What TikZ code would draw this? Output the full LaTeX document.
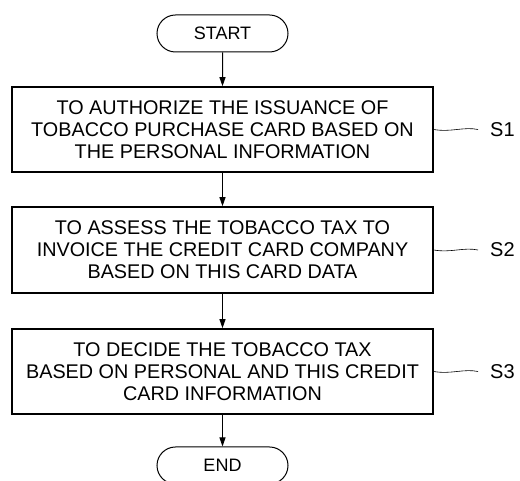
\documentclass[tikz,border=0pt]{standalone}
\usepackage{fontspec}
\setmainfont{Liberation Sans}
\usetikzlibrary{arrows.meta,shapes.misc}
\begin{document}
\begin{tikzpicture}[x=1pt,y=1pt,
  every node/.style={font=\fontsize{18}{22}\selectfont},
  stepbox/.style={draw, line width=1.6pt, minimum width=421pt, minimum height=85pt, align=center, inner sep=0pt, font=\fontsize{19.8}{22}\selectfont},
  term/.style={draw, line width=1pt, rounded rectangle, minimum width=131pt, minimum height=37pt, inner sep=0pt},
  flow/.style={line width=1pt, -{Triangle[length=9pt,width=6pt]}},
  lead/.style={line width=0.6pt},
  tag/.style={anchor=west, inner sep=0pt, font=\fontsize{20}{22}\selectfont}]
\useasboundingbox (0,0) rectangle (520,481);
\node[term] (start) at (222.5,447.5) {START};
\node[stepbox] (s1) at (222.5,351.5) {TO AUTHORIZE THE ISSUANCE OF\\TOBACCO PURCHASE CARD BASED ON\\THE PERSONAL INFORMATION};
\node[stepbox, minimum height=86pt] (s2) at (222.5,231) {TO ASSESS THE TOBACCO TAX TO\\INVOICE THE CREDIT CARD COMPANY\\BASED ON THIS CARD DATA};
\node[stepbox] (s3) at (222.5,109.5) {TO DECIDE THE TOBACCO TAX\\BASED ON PERSONAL AND THIS CREDIT\\CARD INFORMATION};
\node[term] (end) at (222.5,15.5) {END};
\draw[flow] (start) -- (s1);
\draw[flow] (s1) -- (s2);
\draw[flow] (s2) -- (s3);
\draw[flow] (s3) -- (end);
\node[tag] (l1) at (490,351.5) {S1};
\node[tag] (l2) at (490,231) {S2};
\node[tag] (l3) at (490,109.5) {S3};
\draw[lead] (s1.east) .. controls +(17,-3) and +(-14,3) .. ([xshift=-12pt]l1.west);
\draw[lead] (s2.east) .. controls +(17,-3) and +(-14,3) .. ([xshift=-12pt]l2.west);
\draw[lead] (s3.east) .. controls +(17,-3) and +(-14,3) .. ([xshift=-12pt]l3.west);
\end{tikzpicture}
\end{document}
